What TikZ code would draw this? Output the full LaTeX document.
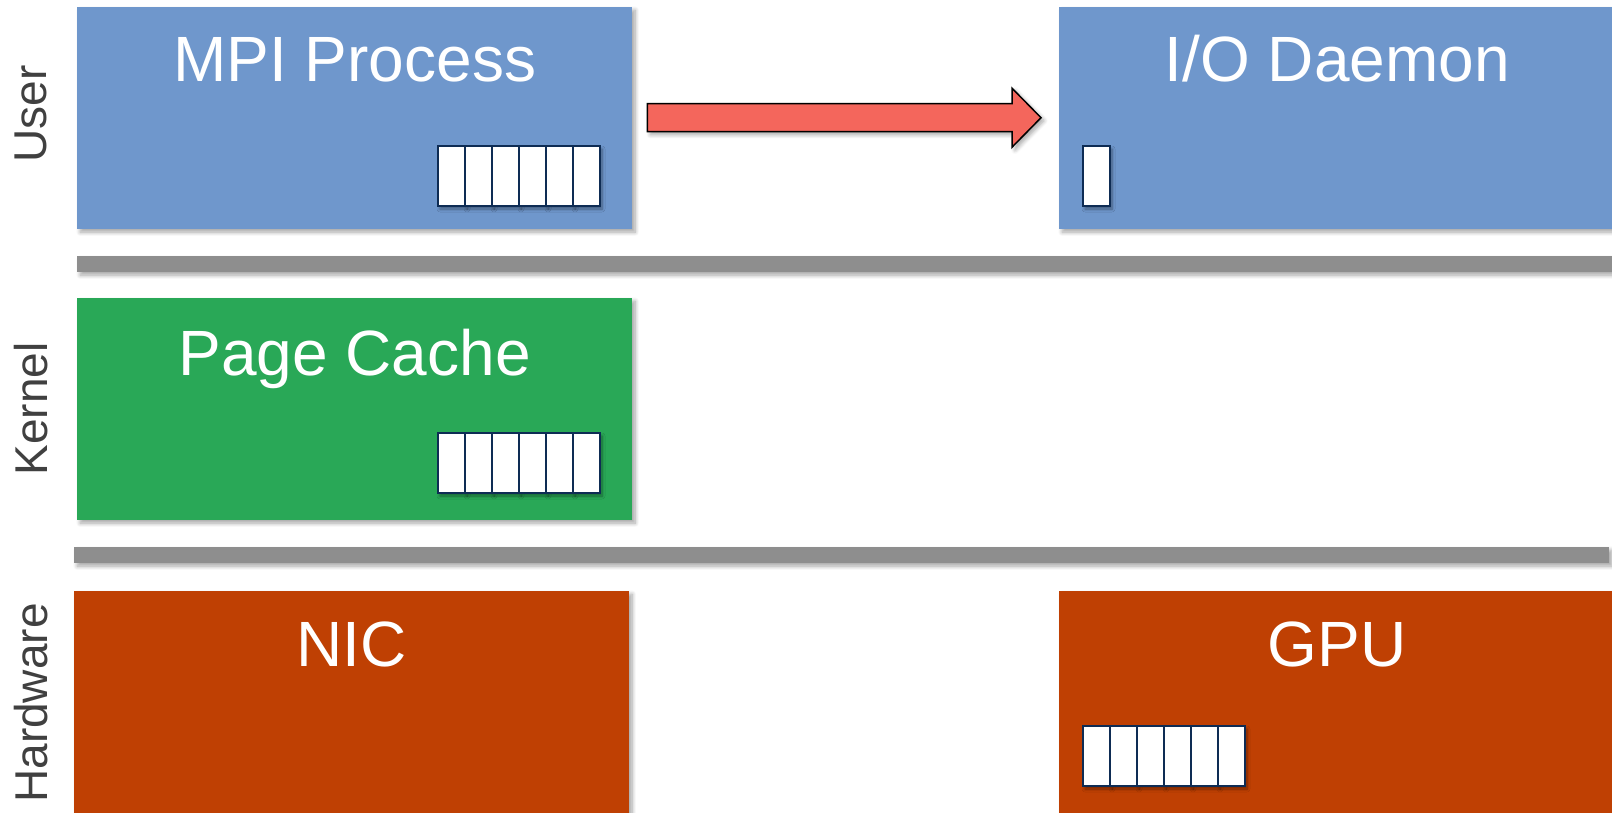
\documentclass[tikz,border=0pt]{standalone}
\usepackage{fontspec}
\setmainfont{Liberation Sans}
\usetikzlibrary{shadows.blur,calc}

\definecolor{userblue}{HTML}{6F97CC}
\definecolor{kernelgreen}{HTML}{29A857}
\definecolor{hwred}{HTML}{BF4003}
\definecolor{sepgray}{HTML}{8E8E8E}
\definecolor{arrowred}{HTML}{F4665C}
\definecolor{bufnavy}{HTML}{0E2C54}
\definecolor{labelgray}{HTML}{404040}

\tikzset{
  softshadow/.style={blur shadow={shadow xshift=3pt, shadow yshift=-3pt,
      shadow blur radius=4pt, shadow blur steps=8, shadow opacity=35}},
  layerbox/.style={anchor=north west, inner sep=0pt, draw=none, softshadow},
  separator/.style={anchor=north west, inner sep=0pt, fill=sepgray,
      minimum height=16pt, softshadow},
  title/.style={anchor=base, inner sep=0pt, text=white,
      font=\fontsize{64}{70}\selectfont},
  layerlabel/.style={rotate=90, inner sep=0pt, text=labelgray,
      font=\fontsize{46}{50}\selectfont},
  cell/.style={anchor=north west, draw=bufnavy, line width=2pt, fill=white,
      minimum width=27pt, minimum height=60pt, inner sep=0pt,
      blur shadow={shadow xshift=2pt, shadow yshift=-3pt,
      shadow blur radius=3pt, shadow blur steps=6, shadow opacity=40}},
  blockarrow/.style={fill=arrowred, draw=black, line width=1.5pt,
      line join=miter, softshadow},
}

\begin{document}
\begin{tikzpicture}[x=1pt, y=-1pt]
  \useasboundingbox (0,0) rectangle (1612,813);

  % layer separators
  \node[separator, minimum width=1540pt] (sepuk) at (77,256) {};
  \node[separator, minimum width=1535pt] (sepkh) at (74,547) {};

  % user space
  \node[layerbox, fill=userblue, minimum width=555pt, minimum height=222pt] (mpi) at (77,7) {};
  \node[layerbox, fill=userblue, minimum width=556pt, minimum height=222pt] (iod) at (1059,7) {};
  \node[title] (mpit) at ([yshift=-75pt]mpi.north) {MPI Process};
  \node[title] (iodt) at ([yshift=-75pt]iod.north) {I/O Daemon};

  % kernel space
  \node[layerbox, fill=kernelgreen, minimum width=555pt, minimum height=222pt] (pc) at (77,298) {};
  \node[title] (pct) at ([yshift=-77pt]pc.north) {Page Cache};

  % hardware
  \node[layerbox, fill=hwred, minimum width=555pt, minimum height=240pt] (nic) at (74,591) {};
  \node[layerbox, fill=hwred, minimum width=556pt, minimum height=240pt] (gpu) at (1059,591) {};
  \node[title] (nict) at ([yshift=-75pt]nic.north) {NIC};
  \node[title] (gput) at ([yshift=-75pt]gpu.north) {GPU};

  % layer names
  \node[layerlabel] (luser) at (31,114) {User};
  \node[layerlabel] (lkern) at (31,409) {Kernel};
  \node[layerlabel] (lhw) at (31,703) {Hardware};

  % buffers
  \foreach \i in {0,...,5} {
    \node[cell] (mb\i) at ({437+27*\i},145) {};
  }
  \foreach \i in {0,...,5} {
    \node[cell] (pb\i) at ({437+27*\i},432) {};
  }
  \foreach \i in {0,...,5} {
    \node[cell] (gb\i) at ({1082+27*\i},725) {};
  }
  \node[cell] (ib0) at (1082,145) {};

  % transfer from the MPI process to the I/O daemon
  \coordinate (as) at ([xshift=15pt,yshift=0.5pt]mpi.east);
  \coordinate (ae) at ([xshift=-18pt,yshift=0.5pt]iod.west);
  \draw[blockarrow]
    ([yshift=14pt]as) -- ([xshift=-29pt,yshift=14pt]ae)
    -- ([xshift=-29pt,yshift=29.5pt]ae) -- (ae)
    -- ([xshift=-29pt,yshift=-29.5pt]ae) -- ([xshift=-29pt,yshift=-14pt]ae)
    -- ([yshift=-14pt]as) -- cycle;
\end{tikzpicture}
\end{document}
